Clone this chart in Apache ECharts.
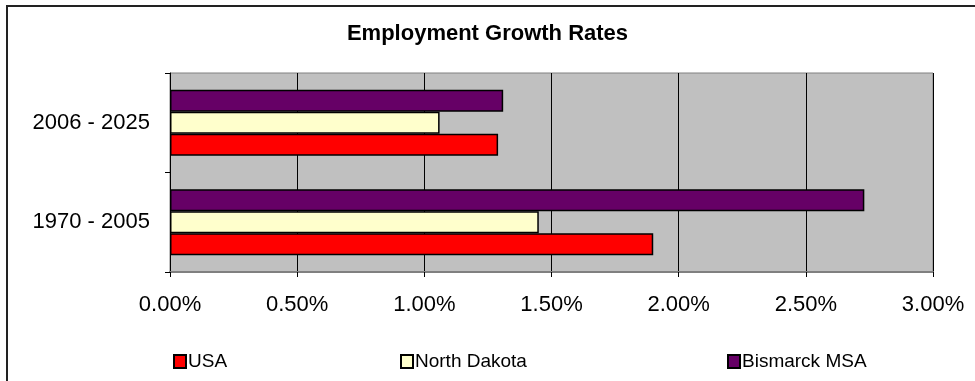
<!DOCTYPE html>
<html>
<head>
<meta charset="utf-8">
<title>Employment Growth Rates</title>
<script src="https://cdn.jsdelivr.net/npm/echarts@6/dist/echarts.min.js"></script>
<style>
  html, body { margin: 0; padding: 0; background: #fff; }
  #chart { width: 975px; height: 381px; }
</style>
</head>
<body>
<div id="chart"></div>
<script>
// Periods (bottom to top on the category axis)
const periods = ['1970 - 2005', '2006 - 2025'];

// Annual employment growth, in percent
const usa = [1.90, 1.29];
const northDakota = [1.45, 1.06];
const bismarckMSA = [2.73, 1.31];

const seriesNames = ['USA', 'North Dakota', 'Bismarck MSA'];
const seriesColors = ['#FF0000', '#FFFFCC', '#660066'];

// Value axis ticks
const axisMin = 0;
const axisMax = 3;
const axisStep = 0.5;

const FONT = '"Liberation Sans", Arial, sans-serif';

const chart = echarts.init(document.getElementById('chart'), null, { renderer: 'canvas' });

function barSeries(name, values, color) {
  return {
    name: name,
    type: 'bar',
    data: values,
    barGap: '0%',
    barCategoryGap: '33.5%',
    itemStyle: { color: color, borderColor: '#000', borderWidth: 1.5 },
    emphasis: { disabled: true }
  };
}

function legendItem(name, left) {
  return {
    data: [name],
    left: left,
    top: 352,
    icon: 'rect',
    itemWidth: 12,
    itemHeight: 13,
    itemGap: 0,
    padding: 0,
    selectedMode: false,
    textStyle: { fontFamily: FONT, fontSize: 19, color: '#000', padding: [0, 0, 0, -3] }
  };
}

chart.setOption({
  backgroundColor: '#fff',
  animation: false,
  title: {
    text: 'Employment Growth Rates',
    left: 'center',
    top: 18,
    textStyle: { fontFamily: FONT, fontSize: 22, fontWeight: 'bold', color: '#000' }
  },
  graphic: [{
    type: 'rect',
    shape: { x: 7, y: 6, width: 1000, height: 420 },
    style: { fill: 'none', stroke: '#222', lineWidth: 2 },
    silent: true
  }],
  legend: [
    legendItem(seriesNames[0], 173),
    legendItem(seriesNames[1], 400),
    legendItem(seriesNames[2], 727)
  ],
  grid: {
    left: 170,
    right: 42,
    top: 73,
    bottom: 109,
    show: true,
    backgroundColor: '#C0C0C0',
    borderColor: '#808080',
    borderWidth: 1
  },
  xAxis: {
    type: 'value',
    min: axisMin,
    max: axisMax,
    interval: axisStep,
    axisLine: { show: true, lineStyle: { color: '#808080', width: 2 } },
    axisTick: { show: true, length: 5, lineStyle: { color: '#000' } },
    splitLine: { show: true, lineStyle: { color: '#000', width: 1 } },
    axisLabel: {
      margin: 22,
      fontFamily: FONT,
      fontSize: 22,
      color: '#000',
      formatter: v => v.toFixed(2) + '%'
    }
  },
  yAxis: {
    type: 'category',
    data: periods,
    axisLine: { show: true, lineStyle: { color: '#000', width: 1 } },
    axisTick: { show: true, length: 5, lineStyle: { color: '#000' } },
    splitLine: { show: false },
    axisLabel: { margin: 20, fontFamily: FONT, fontSize: 22, color: '#000' }
  },
  // Stacked top-down within each band: Bismarck MSA on top, USA at the bottom
  series: [
    barSeries(seriesNames[2], bismarckMSA, seriesColors[2]),
    barSeries(seriesNames[1], northDakota, seriesColors[1]),
    barSeries(seriesNames[0], usa, seriesColors[0])
  ]
});
</script>
</body>
</html>
